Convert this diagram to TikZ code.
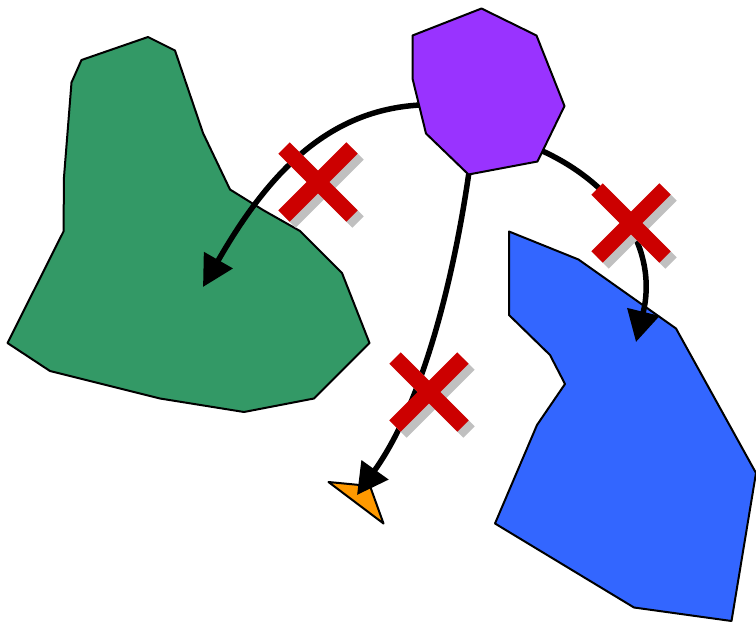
\documentclass[tikz,border=0pt]{standalone}
\usetikzlibrary{arrows.meta}
\definecolor{greenfill}{HTML}{339966}
\definecolor{purplefill}{HTML}{9933FF}
\definecolor{bluefill}{HTML}{3366FF}
\definecolor{orangefill}{HTML}{FF9900}
\definecolor{crossred}{HTML}{CC0000}
\definecolor{crossshadow}{HTML}{C0C0C0}
\tikzset{
  region/.style={draw=black, line width=2pt, line join=round},
  link/.style={draw=black, line width=5.5pt, -{Triangle[length=31pt,width=32pt]}},
  barred/.pic={
    \draw[crossshadow, line width=16pt] (-28,-28) -- (40,40);
    \draw[crossshadow, line width=16pt] (40,-28) -- (-28,40);
    \draw[crossred, line width=16pt] (-34,-34) -- (34,34);
    \draw[crossred, line width=16pt] (34,-34) -- (-34,34);
  }
}
\begin{document}
\begin{tikzpicture}[x=1pt,y=-1pt]
\useasboundingbox (0,0) rectangle (756,624);
% regions
\draw[region, fill=greenfill] (148,37) -- (175,50.5) -- (203,133) -- (230,189.5) -- (263,210) -- (300,231) -- (342,273) -- (369.5,343) -- (314,398.5) -- (244,412) -- (160,398.5) -- (50,371) -- (7.5,343) -- (63.5,231.5) -- (64,177) -- (71.5,82.5) -- (81.5,60) -- cycle;
\draw[region, fill=bluefill] (509,231.5) -- (578.5,259.5) -- (676,328.5) -- (756,473) -- (731.5,621) -- (634,607.5) -- (495,523.5) -- (537,425) -- (565,384) -- (550,355) -- (509,315) -- cycle;
\draw[region, fill=orangefill] (328.5,482) -- (370,486) -- (383.5,523.5) -- cycle;
% connector end points
\coordinate (s1) at (420,105);
\coordinate (t1) at (203,287);
\coordinate (s2) at (469,172);
\coordinate (t2) at (357,495);
\coordinate (s3) at (538,149);
\coordinate (t3) at (636,342);
\draw[link] (s1) .. controls (330,110) and (270,170) .. (t1);
\draw[link] (s2) .. controls (455,270) and (425,400) .. (t2);
\draw[link] (s3) .. controls (620,185) and (658,252) .. (t3);
% source region
\draw[region, fill=purplefill] (481.5,8.5) -- (536.5,35.5) -- (564.5,106) -- (537.5,161.5) -- (468.5,174.5) -- (426,133.5) -- (412.5,78.5) -- (412.5,35.5) -- cycle;
% crosses
\pic at (318,182) {barred};
\pic at (631,223) {barred};
\pic at (429,392) {barred};
\end{tikzpicture}
\end{document}
